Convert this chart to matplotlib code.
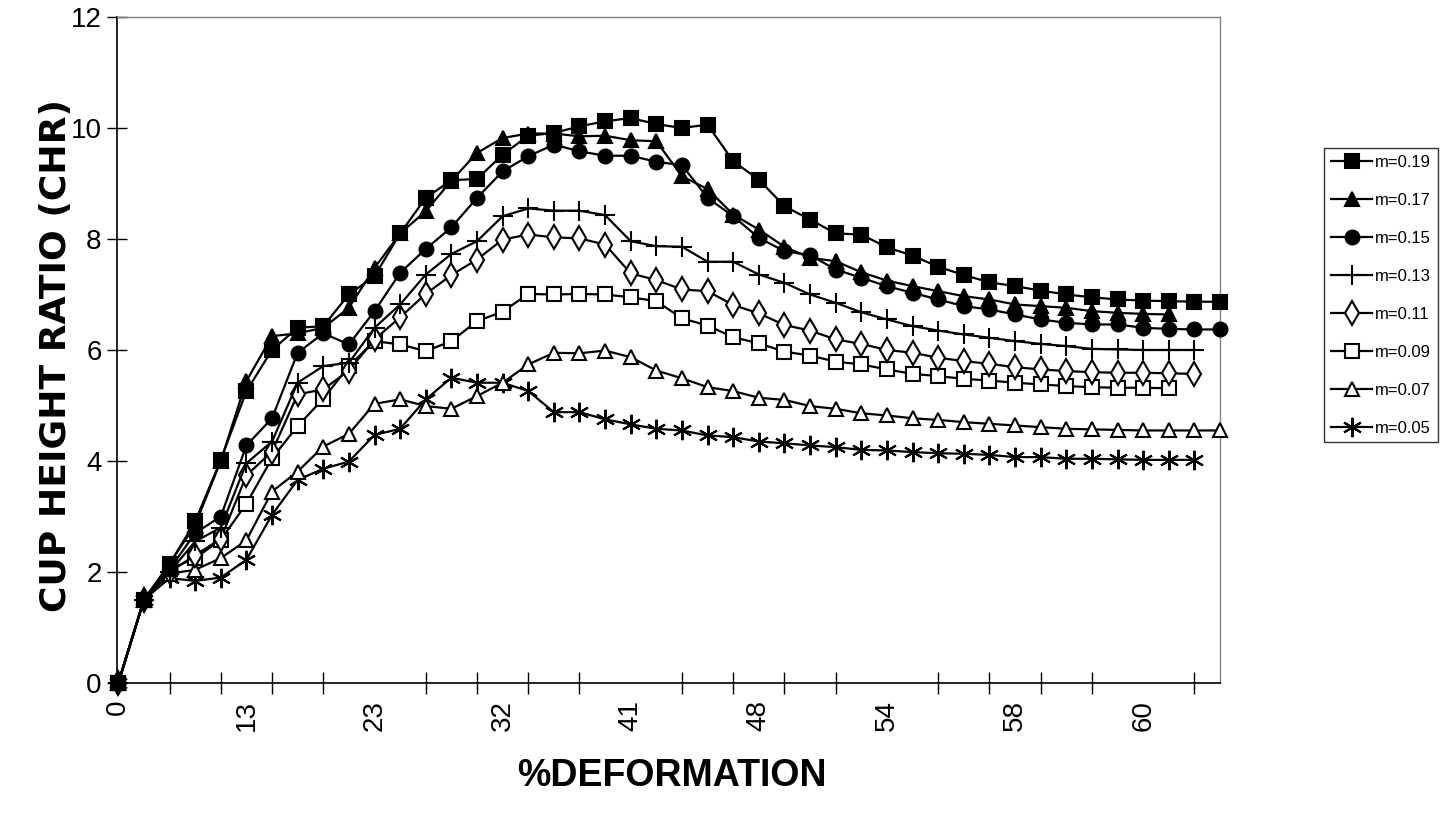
import matplotlib
matplotlib.use("Agg")
import matplotlib.pyplot as plt

plt.rcParams['font.family'] = ['Liberation Sans', 'DejaVu Sans']

# category labels on the x axis (one label every 5 points)
x_labels = ['0', '13', '23', '32', '41', '48', '54', '58', '60']
label_step = 5
tick_step = 2
n_points = 44

series_names = ['m=0.19', 'm=0.17', 'm=0.15', 'm=0.13', 'm=0.11', 'm=0.09', 'm=0.07', 'm=0.05']

m019 = [0, 1.5, 2.14, 2.91, 4.02, 5.26, 6.0, 6.4, 6.43, 7.0, 7.33, 8.1, 8.74, 9.06, 9.08,
        9.52, 9.86, 9.91, 10.03, 10.12, 10.18, 10.07, 10.0, 10.06, 9.4, 9.07, 8.59, 8.35,
        8.1, 8.08, 7.85, 7.7, 7.5, 7.35, 7.22, 7.15, 7.07, 7.0, 6.95, 6.91, 6.89, 6.88,
        6.87, 6.87]
m017 = [0, 1.5, 2.15, 2.85, 4.0, 5.44, 6.25, 6.3, 6.4, 6.76, 7.48, 8.1, 8.5, 9.05, 9.55,
        9.82, 9.9, 9.9, 9.85, 9.86, 9.78, 9.76, 9.13, 8.9, 8.44, 8.17, 7.86, 7.66, 7.6,
        7.4, 7.25, 7.15, 7.06, 6.97, 6.91, 6.82, 6.79, 6.76, 6.7, 6.67, 6.65, 6.64]
m015 = [0, 1.5, 2.05, 2.7, 3.0, 4.28, 4.77, 5.95, 6.3, 6.1, 6.7, 7.39, 7.82, 8.21, 8.74,
        9.22, 9.49, 9.7, 9.58, 9.5, 9.5, 9.39, 9.33, 8.74, 8.41, 8.02, 7.78, 7.71, 7.45,
        7.3, 7.15, 7.03, 6.91, 6.79, 6.73, 6.64, 6.55, 6.49, 6.46, 6.46, 6.4, 6.38, 6.37,
        6.37]
m013 = [0, 1.5, 2.0, 2.55, 2.8, 3.96, 4.35, 5.41, 5.71, 5.77, 6.4, 6.82, 7.36, 7.73, 7.96,
        8.41, 8.55, 8.51, 8.51, 8.43, 7.96, 7.87, 7.86, 7.59, 7.59, 7.36, 7.21, 7.0, 6.85,
        6.68, 6.55, 6.43, 6.35, 6.28, 6.22, 6.16, 6.11, 6.07, 6.02, 6.01, 6.0, 6.0, 6.0]
m011 = [0, 1.5, 2.0, 2.3, 2.6, 3.74, 4.17, 5.2, 5.29, 5.63, 6.19, 6.59, 7.01, 7.35, 7.63,
        7.99, 8.08, 8.03, 8.01, 7.9, 7.38, 7.26, 7.09, 7.06, 6.81, 6.66, 6.45, 6.35, 6.19,
        6.11, 6.0, 5.95, 5.86, 5.8, 5.75, 5.69, 5.65, 5.62, 5.6, 5.59, 5.59, 5.58, 5.57]
m009 = [0, 1.5, 2.05, 2.25, 2.58, 3.23, 4.05, 4.63, 5.12, 5.71, 6.16, 6.1, 5.98, 6.16, 6.52,
        6.69, 7.01, 7.0, 7.01, 7.0, 6.95, 6.88, 6.57, 6.44, 6.23, 6.12, 5.97, 5.9, 5.79,
        5.74, 5.65, 5.57, 5.53, 5.48, 5.45, 5.41, 5.38, 5.35, 5.33, 5.32, 5.32, 5.31]
m007 = [0, 1.5, 1.97, 2.04, 2.25, 2.57, 3.45, 3.81, 4.26, 4.49, 5.03, 5.11, 4.99, 4.94, 5.17,
        5.41, 5.74, 5.95, 5.94, 5.99, 5.87, 5.63, 5.49, 5.33, 5.26, 5.14, 5.1, 4.99, 4.94,
        4.86, 4.82, 4.77, 4.74, 4.7, 4.67, 4.64, 4.61, 4.58, 4.57, 4.56, 4.55, 4.55, 4.55,
        4.55]
m005 = [0, 1.5, 1.89, 1.84, 1.9, 2.22, 3.03, 3.66, 3.86, 3.99, 4.47, 4.58, 5.11, 5.5, 5.41,
        5.41, 5.26, 4.88, 4.88, 4.75, 4.66, 4.58, 4.55, 4.46, 4.43, 4.35, 4.32, 4.28, 4.25,
        4.2, 4.19, 4.16, 4.14, 4.13, 4.11, 4.07, 4.07, 4.04, 4.04, 4.03, 4.02, 4.02, 4.02]

all_series = [m019, m017, m015, m013, m011, m009, m007, m005]

# marker styles: (marker, size, filled)
styles = [('s', 10, True), ('^', 10.5, True), ('o', 10, True), ('+', 14, True),
          ('d', 12, False), ('s', 9.5, False), ('^', 10.5, False), ((6, 2, 0), 14, True)]

fig = plt.figure(figsize=(14.5, 8.24), dpi=100)
ax = fig.add_axes([0.0807, 0.1711, 0.7607, 0.8083])

lines = []
for k, (name, vals, st) in enumerate(zip(series_names, all_series, styles)):
    mk, ms, filled = st
    xs = list(range(len(vals)))
    ln, = ax.plot(xs, vals, color='black', lw=1.6, marker=mk, markersize=ms,
                  markerfacecolor='black' if filled else 'white',
                  markeredgecolor='black', markeredgewidth=1.5,
                  label=name, zorder=20 - k, clip_on=False)
    lines.append(ln)

ax.set_xlim(-0.05, n_points - 1)
ax.set_ylim(0, 12)

# tick marks every 2 points, labels every 5 points
ax.set_xticks(list(range(0, n_points - 1, tick_step)), minor=True)
ax.set_xticks([i * label_step for i in range(len(x_labels))])
ax.set_xticklabels(x_labels, rotation=90, fontsize=20)
ax.tick_params(axis='x', which='major', length=0, pad=12)
ax.tick_params(axis='x', which='minor', direction='inout', length=16, width=1)

ax.set_yticks(range(0, 13, 2))
ax.tick_params(axis='y', direction='inout', length=14, width=1, labelsize=20, pad=4)

for side in ['top', 'right']:
    ax.spines[side].set_color('#808080')
    ax.spines[side].set_linewidth(1)
for side in ['left', 'bottom']:
    ax.spines[side].set_color('black')
    ax.spines[side].set_linewidth(1.2)

fig.text(56 / 1450, 1 - 355 / 824, 'CUP HEIGHT RATIO (CHR)', rotation=90,
         ha='center', va='center', fontsize=26, fontweight='bold', family=['DejaVu Sans'])
fig.text(672 / 1450, 1 - 776 / 824, '%DEFORMATION', ha='center', va='center',
         fontsize=27, fontweight='bold')

leg = fig.legend(handles=lines, labels=series_names, loc='upper left',
                 bbox_to_anchor=(1324 / 1450, 1 - 148 / 824), borderaxespad=0,
                 frameon=True, fancybox=False, edgecolor='black',
                 handlelength=2.5, labelspacing=1.38, borderpad=0.4, handletextpad=0.15,
                 prop={'family': ['Liberation Sans Narrow', 'Liberation Sans'], 'size': 12})
leg.get_frame().set_linewidth(1)

fig.savefig('out.png', dpi=100, facecolor='white')
